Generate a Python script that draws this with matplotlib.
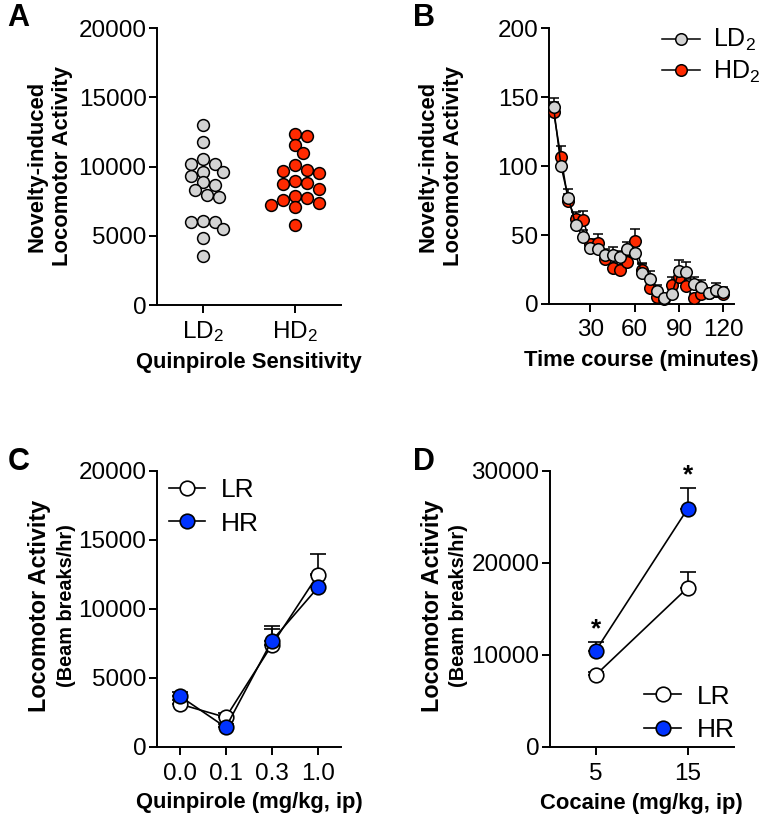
import numpy as np
import matplotlib
matplotlib.use("Agg")
import matplotlib.pyplot as plt

plt.rcParams['font.family'] = ['Liberation Sans', 'DejaVu Sans']
plt.rcParams['mathtext.fontset'] = 'custom'
plt.rcParams['mathtext.rm'] = 'Liberation Sans'
plt.rcParams['mathtext.it'] = 'Liberation Sans:italic'
plt.rcParams['mathtext.bf'] = 'Liberation Sans:bold'

# ---------------- data ----------------
# Panel A: novelty-induced locomotor activity per animal
groups_A = ["LD$_2$", "HD$_2$"]
ld2_A = [13000, 11780, 10530, 10170, 10170, 9620, 9620, 9350, 8870, 8630,
         8310, 7950, 7810, 6100, 6020, 6020, 5520, 4840, 3540]
hd2_A = [12340, 12170, 11540, 10940, 10100, 9760, 9690, 9520, 8970, 8800,
         8720, 8410, 7880, 7760, 7590, 7400, 7250, 7060, 5760]

# Panel B: time course (5-min bins)
time_B = [5, 10, 15, 20, 25, 30, 35, 40, 45, 50, 55, 60,
          65, 70, 75, 80, 85, 90, 95, 100, 105, 110, 115, 120]
ld2_B = [143.2, 100.2, 76.8, 57.5, 48.5, 40.6, 40.1, 35.7, 35.7, 34.0, 39.8, 37.3,
         22.3, 18.3, 9.7, 4.2, 6.9, 24.2, 23.5, 14.8, 12.4, 7.8, 10.2, 8.5]
ld2_B_sem = [6.0, 6.0, 6.5, 6.0, 5.0, 4.0, 4.0, 4.5, 6.0, 4.5, 5.5, 5.0,
             7.0, 6.0, 4.0, 3.0, 4.0, 7.5, 7.0, 4.5, 5.0, 4.0, 5.0, 4.0]
hd2_B = [139.3, 106.5, 74.5, 61.6, 61.1, 43.5, 44.2, 32.6, 26.1, 24.4, 30.7, 45.4,
         25.0, 11.6, 5.0, 3.5, 13.6, 19.9, 12.9, 4.1, 6.9, 8.0, 9.5, 7.5]
hd2_B_sem = [7.0, 8.0, 5.5, 5.0, 6.5, 4.0, 6.5, 4.0, 4.0, 4.0, 4.0, 9.0,
             5.0, 5.0, 3.0, 3.0, 6.0, 6.0, 5.0, 3.0, 3.0, 3.0, 3.0, 3.0]

# Panel C: quinpirole dose response
doses_C = ["0.0", "0.1", "0.3", "1.0"]
lr_C = [3090, 2125, 7370, 12460]
lr_C_sem = [300, 300, 1180, 1500]
hr_C = [3670, 1400, 7680, 11540]
hr_C_sem = [300, 250, 1060, 1000]

# Panel D: cocaine dose response
doses_D = [5, 15]
lr_D = [7790, 17280]
lr_D_sem = [300, 1740]
hr_D = [10430, 25870]
hr_D_sem = [900, 2200]
sig_D = ["*", "*"]

# ---------------- styles ----------------
GRAY = "#d3d3d3"
RED = "#ff2a00"
BLUE = "#0033ff"
W, H = 767, 822
fig = plt.figure(figsize=(W / 100, H / 100), dpi=100)

TICK_FS = 17.5
LAB_FS = 15.8


def px_axes(l, t, r, b):
    return fig.add_axes([l / W, 1 - b / H, (r - l) / W, (b - t) / H])


def style(ax):
    for s in ("top", "right"):
        ax.spines[s].set_visible(False)
    for s in ("left", "bottom"):
        ax.spines[s].set_linewidth(1.4)
    ax.tick_params(direction="out", length=5.5, width=1.4, labelsize=TICK_FS, pad=2)


def fig_text(x, y, s, **kw):
    fig.text(x / W, 1 - y / H, s, **kw)


# ---------------- Panel A ----------------
axA = px_axes(157, 28, 341, 305)
style(axA)
axA.set_xlim(-0.5, 1.5)
axA.set_ylim(0, 20000)
axA.set_yticks([0, 5000, 10000, 15000, 20000])
axA.set_xticks([0, 1])
axA.set_xticklabels(groups_A)
axA.tick_params(axis="x", pad=5)


def swarm(ax, xc, vals, diam_px, step_px):
    fig.canvas.draw()
    order = np.argsort(vals)[::-1]
    placed = []
    out = [None] * len(vals)
    cands = [0]
    for k in range(1, 12):
        cands += [k, -k]
    for i in order:
        px, py = ax.transData.transform((xc, vals[i]))
        for k in cands:
            cx = px + k * step_px
            if all((cx - qx) ** 2 + (py - qy) ** 2 >= diam_px ** 2 for qx, qy in placed):
                break
        placed.append((cx, py))
        out[i] = ax.transData.inverted().transform((cx, py))[0]
    return out


for gi, (vals, col) in enumerate([(ld2_A, GRAY), (hd2_A, RED)]):
    xs = swarm(axA, gi, vals, 10.0, 4.0)
    axA.plot(xs, vals, "o", ms=8.5, mfc=col, mec="black", mew=1.1, ls="none",
             clip_on=False, zorder=3)

fig_text(50, 166, "Novelty-induced\nLocomotor Activity", rotation=90,
         ha="center", va="center", fontsize=LAB_FS, fontweight="bold", linespacing=1.3)
fig_text(249, 362, "Quinpirole Sensitivity", ha="center", va="center",
         fontsize=LAB_FS, fontweight="bold")
fig_text(7, 18, "A", ha="left", va="center", fontsize=22, fontweight="bold")

# ---------------- Panel B ----------------
axB = px_axes(548.7, 28.3, 733.7, 304)
style(axB)
axB.set_xlim(1.7, 127)
axB.set_ylim(0, 200)
axB.set_yticks([0, 50, 100, 150, 200])
axB.set_xticks([30, 60, 90, 120])
axB.tick_params(axis="x", pad=5)

zero = [0] * len(time_B)
axB.errorbar(time_B, hd2_B, yerr=[zero, hd2_B_sem], fmt="none", ecolor="black",
             elinewidth=1.1, capsize=3.6, capthick=1.1, zorder=2, clip_on=False)
axB.errorbar(time_B, ld2_B, yerr=[zero, ld2_B_sem], fmt="none", ecolor="black",
             elinewidth=1.1, capsize=3.6, capthick=1.1, zorder=2, clip_on=False)
hB = axB.plot(time_B, hd2_B, "-o", color="black", lw=1.1, ms=8.3, mfc=RED,
              mec="black", mew=1.1, zorder=3, clip_on=False)[0]
lB = axB.plot(time_B, ld2_B, "-o", color="black", lw=1.1, ms=8.3, mfc=GRAY,
              mec="black", mew=1.1, zorder=4, clip_on=False)[0]
axB.legend([lB, hB], ["LD$_2$", "HD$_2$"], loc="upper right",
           bbox_to_anchor=(1.2, 1.04), frameon=False, fontsize=TICK_FS + 0.5,
           handlelength=1.5, handletextpad=0.55, labelspacing=0.2,
           borderaxespad=0)

fig_text(441, 166, "Novelty-induced\nLocomotor Activity", rotation=90,
         ha="center", va="center", fontsize=LAB_FS, fontweight="bold", linespacing=1.3)
fig_text(641, 360, "Time course (minutes)", ha="center", va="center",
         fontsize=LAB_FS, fontweight="bold")
fig_text(413, 18, "B", ha="left", va="center", fontsize=22, fontweight="bold")

# ---------------- Panel C ----------------
axC = px_axes(156.7, 470.7, 341, 746.7)
style(axC)
axC.set_xlim(-0.5, 3.5)
axC.set_ylim(0, 20000)
axC.set_yticks([0, 5000, 10000, 15000, 20000])
xC = np.arange(len(doses_C))
axC.set_xticks(xC)
axC.set_xticklabels(doses_C)
axC.tick_params(axis="x", pad=6)
z4 = [0] * len(doses_C)
axC.errorbar(xC, lr_C, yerr=[z4, lr_C_sem], fmt="none", ecolor="black",
             elinewidth=1.2, capsize=6, capthick=1.2, zorder=2)
axC.errorbar(xC, hr_C, yerr=[z4, hr_C_sem], fmt="none", ecolor="black",
             elinewidth=1.2, capsize=6, capthick=1.2, zorder=2)
lC = axC.plot(xC, lr_C, "-o", color="black", lw=1.2, ms=10.5, mfc="white",
              mec="black", mew=1.2, zorder=3, clip_on=False)[0]
hC = axC.plot(xC, hr_C, "-o", color="black", lw=1.2, ms=10.5, mfc=BLUE,
              mec="black", mew=1.2, zorder=4, clip_on=False)[0]
axC.legend([lC, hC], ["LR", "HR"], loc="upper left", bbox_to_anchor=(0.007, 1.01),
           frameon=False, fontsize=TICK_FS + 1.5, handlelength=1.4,
           handletextpad=0.6, labelspacing=0.35, borderaxespad=0)

fig_text(40, 606, "Locomotor Activity", rotation=90, ha="center", va="center",
         fontsize=LAB_FS + 1, fontweight="bold")
fig_text(67, 606, "(Beam breaks/hr)", rotation=90, ha="center", va="center",
         fontsize=LAB_FS - 1.5, fontweight="bold")
fig_text(249, 802, "Quinpirole (mg/kg, ip)", ha="center", va="center",
         fontsize=LAB_FS, fontweight="bold")
fig_text(8, 462, "C", ha="left", va="center", fontsize=22, fontweight="bold")

# ---------------- Panel D ----------------
axD = px_axes(549.7, 470.7, 733.7, 746.7)
style(axD)
axD.set_xlim(0, 20)
axD.set_ylim(0, 30000)
axD.set_yticks([0, 10000, 20000, 30000])
axD.set_xticks(doses_D)
axD.tick_params(axis="x", pad=6)
z2 = [0] * len(doses_D)
axD.errorbar(doses_D, lr_D, yerr=[z2, lr_D_sem], fmt="none", ecolor="black",
             elinewidth=1.2, capsize=6, capthick=1.2, zorder=2)
axD.errorbar(doses_D, hr_D, yerr=[z2, hr_D_sem], fmt="none", ecolor="black",
             elinewidth=1.2, capsize=6, capthick=1.2, zorder=2)
lD = axD.plot(doses_D, lr_D, "-o", color="black", lw=1.2, ms=10.5, mfc="white",
              mec="black", mew=1.2, zorder=3)[0]
hD = axD.plot(doses_D, hr_D, "-o", color="black", lw=1.2, ms=10.5, mfc=BLUE,
              mec="black", mew=1.2, zorder=4)[0]
for xd, yd, ed, s in zip(doses_D, hr_D, hr_D_sem, sig_D):
    axD.annotate(s, (xd, yd + ed), xytext=(0, 1), textcoords="offset points",
                 ha="center", va="bottom", fontsize=19, fontweight="bold")
axD.legend([lD, hD], ["LR", "HR"], loc="lower right", bbox_to_anchor=(1.065, -0.021),
           frameon=False, fontsize=TICK_FS + 1.5, handlelength=1.4,
           handletextpad=0.6, labelspacing=0.35, borderaxespad=0)

fig_text(433, 606, "Locomotor Activity", rotation=90, ha="center", va="center",
         fontsize=LAB_FS + 1, fontweight="bold")
fig_text(459, 606, "(Beam breaks/hr)", rotation=90, ha="center", va="center",
         fontsize=LAB_FS - 1.5, fontweight="bold")
fig_text(641, 803, "Cocaine (mg/kg, ip)", ha="center", va="center",
         fontsize=LAB_FS, fontweight="bold")
fig_text(413, 462, "D", ha="left", va="center", fontsize=22, fontweight="bold")

fig.savefig("out.png", dpi=100)
